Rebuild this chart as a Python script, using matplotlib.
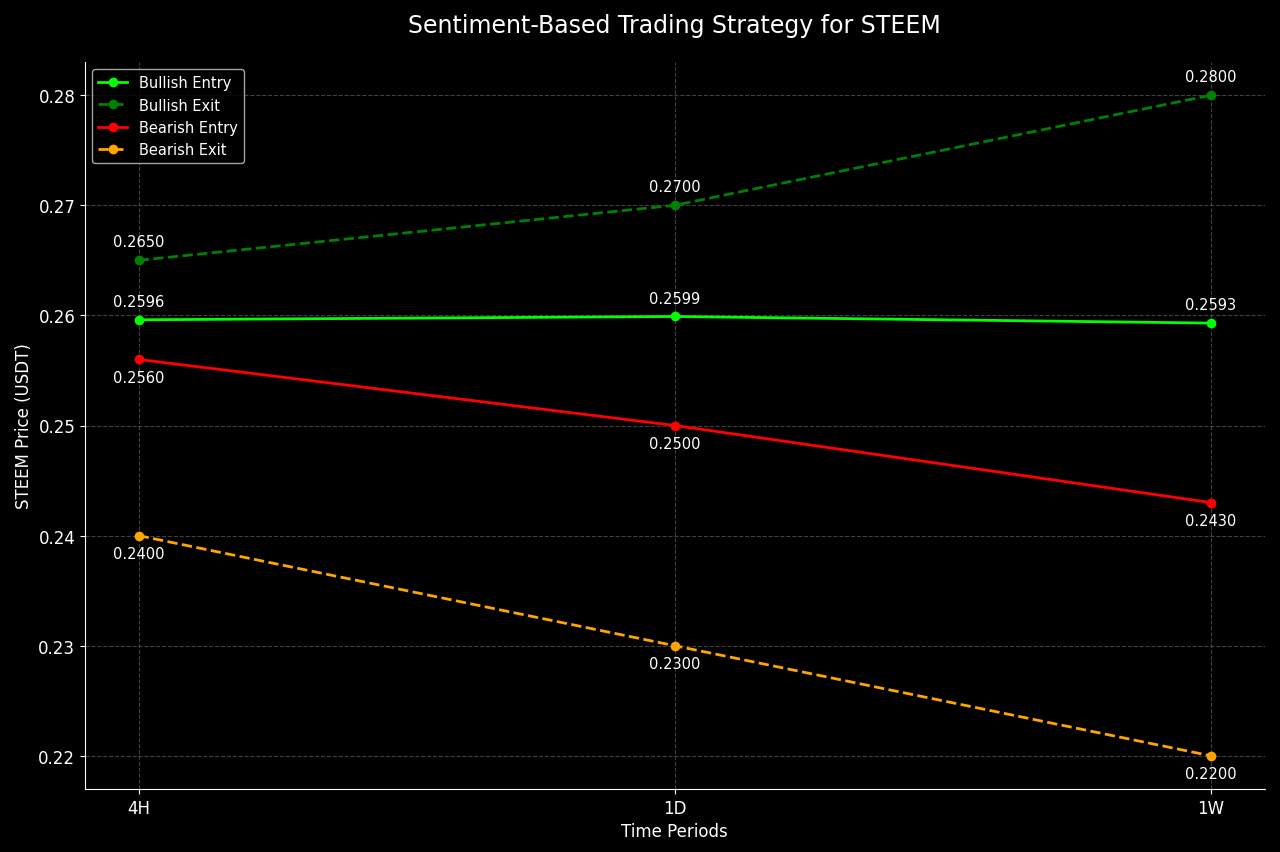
import matplotlib.pyplot as plt
import numpy as np

plt.style.use('dark_background')
plt.rcParams['font.family'] = 'DejaVu Sans'

periods = ['4H', '1D', '1W']
bullish_entry = [0.2596, 0.2599, 0.2593]
bullish_exit = [0.2650, 0.2700, 0.2800]
bearish_entry = [0.2560, 0.2500, 0.2430]
bearish_exit = [0.2400, 0.2300, 0.2200]

fig, ax = plt.subplots(figsize=(12.8, 8.53), dpi=100)
x = np.arange(len(periods))

series = [
    ('Bullish Entry', bullish_entry, 'lime', '-', 10),
    ('Bullish Exit', bullish_exit, 'green', '--', 10),
    ('Bearish Entry', bearish_entry, 'red', '-', -16),
    ('Bearish Exit', bearish_exit, 'orange', '--', -16),
]

for label, vals, color, ls, off in series:
    ax.plot(x, vals, marker='o', linestyle=ls, color=color, linewidth=2,
            markersize=6, label=label)
    for xi, v in zip(x, vals):
        ax.annotate(f"{v:.4f}", (xi, v), textcoords='offset points',
                    xytext=(0, off), ha='center', fontsize=10.5, color='white')

ax.set_xticks(x)
ax.set_xticklabels(periods)
ax.tick_params(labelsize=12)
ax.set_xlabel('Time Periods', fontsize=12)
ax.set_ylabel('STEEM Price (USDT)', fontsize=12)
ax.set_title('Sentiment-Based Trading Strategy for STEEM', fontsize=17, pad=22)
ax.grid(True, linestyle='--', color='gray', alpha=0.5, linewidth=0.8)
ax.spines['top'].set_visible(False)
ax.spines['right'].set_visible(False)
ax.legend(loc='upper left', fontsize=10.5)

plt.subplots_adjust(left=0.0664, right=0.988, bottom=0.074, top=0.926)
plt.savefig('out.png', dpi=100)
